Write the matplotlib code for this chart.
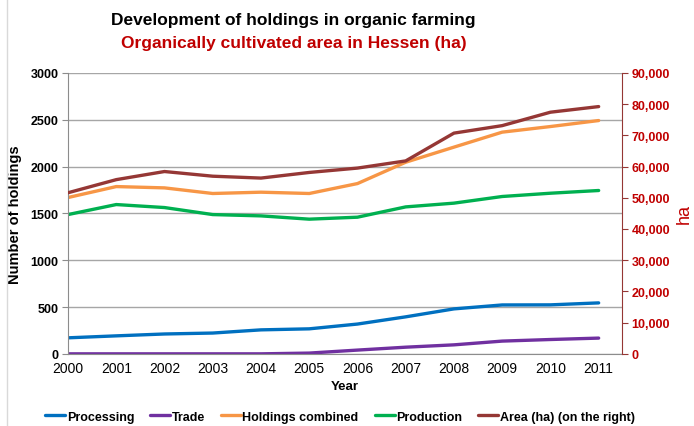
import numpy as np
import matplotlib.pyplot as plt
from matplotlib.lines import Line2D
from matplotlib.ticker import FuncFormatter

plt.rcParams['font.family'] = ['Liberation Sans', 'DejaVu Sans']

years = [2000, 2001, 2002, 2003, 2004, 2005, 2006, 2007, 2008, 2009, 2010, 2011]
processing = [171, 192, 212, 222, 256, 267, 318, 395, 480, 522, 523, 544]
trade = [0, 0, 0, 0, 0, 8, 40, 71, 96, 136, 153, 168]
combined = [1669, 1786, 1772, 1712, 1726, 1712, 1818, 2046, 2207, 2367, 2427, 2491]
production = [1487, 1594, 1562, 1487, 1473, 1438, 1459, 1569, 1609, 1680, 1715, 1744]
area = [51600, 55800, 58400, 56900, 56300, 58100, 59500, 61800, 70700, 73100, 77400, 79200]

red = '#C00000'
lw = 2.4

fig = plt.figure(figsize=(6.94, 4.27), dpi=100)
ax = fig.add_axes([0.098, 0.169, 0.798, 0.658])
ax2 = ax.twinx()

l1, = ax.plot(years, processing, color='#0070C0', lw=lw, solid_capstyle='round')
l2, = ax.plot(years, trade, color='#7030A0', lw=lw, solid_capstyle='round')
l3, = ax.plot(years, combined, color='#F79646', lw=lw, solid_capstyle='round')
l4, = ax.plot(years, production, color='#00B050', lw=lw, solid_capstyle='round')
l5, = ax2.plot(years, area, color='#953735', lw=lw, solid_capstyle='round')

ax.set_xlim(2000, 2011.48)
ax.set_ylim(0, 3000)
ax2.set_ylim(0, 90000)
ax.set_yticks(np.arange(0, 3001, 500))
ax2.set_yticks(np.arange(0, 90001, 10000))
ax.set_xticks(years)
ax.grid(axis='y', color='#a6a6a6', lw=1)
ax.set_axisbelow(True)

ax.spines['top'].set_visible(False)
ax2.spines['top'].set_visible(False)
ax.spines['right'].set_visible(False)
ax.spines['left'].set_color('#8c8c8c')
ax.spines['bottom'].set_color('#8c8c8c')
ax2.spines['left'].set_visible(False)
ax2.spines['bottom'].set_visible(False)
ax2.spines['right'].set_color('#953735')

ax.tick_params(axis='y', length=4, color='#8c8c8c', labelsize=9, pad=3)
ax.tick_params(axis='x', length=0, labelsize=10, pad=5)
for t in ax.get_yticklabels():
    t.set_fontweight('bold')
ax2.tick_params(axis='y', length=4, color='#953735', labelcolor=red, labelsize=9, pad=3)
ax2.yaxis.set_major_formatter(FuncFormatter(lambda v, p: f'{int(v):,}'))
for t in ax2.get_yticklabels():
    t.set_fontweight('bold')

ax.set_ylabel('Number of holdings', fontsize=10.5, fontweight='bold')
ax.yaxis.set_label_coords(-0.083, 0.5)
ax.set_xlabel('Year', fontsize=9.5, fontweight='bold', labelpad=4)
ax2.set_ylabel('ha', fontsize=13, color=red)
ax2.yaxis.set_label_coords(1.097, 0.5)

fig.text(0.423, 0.952, 'Development of holdings in organic farming', ha='center', va='center',
         fontsize=12.5, fontweight='bold')
fig.text(0.423, 0.898, 'Organically cultivated area in Hessen (ha)', ha='center', va='center',
         fontsize=12.5, fontweight='bold', color=red)

fig.legend([l1, l2, l3, l4, l5],
           ['Processing', 'Trade', 'Holdings combined', 'Production', 'Area (ha) (on the right)'],
           loc='center', bbox_to_anchor=(0.49, 0.022), ncol=5, frameon=False,
           prop={'weight': 'bold', 'size': 9}, handlelength=1.6, handletextpad=0.1,
           columnspacing=1.3)

fig.add_artist(Line2D([0.01, 0.01], [0.0, 1.0], color='#d9d9d9', lw=1))

fig.savefig('out.png', dpi=100)
